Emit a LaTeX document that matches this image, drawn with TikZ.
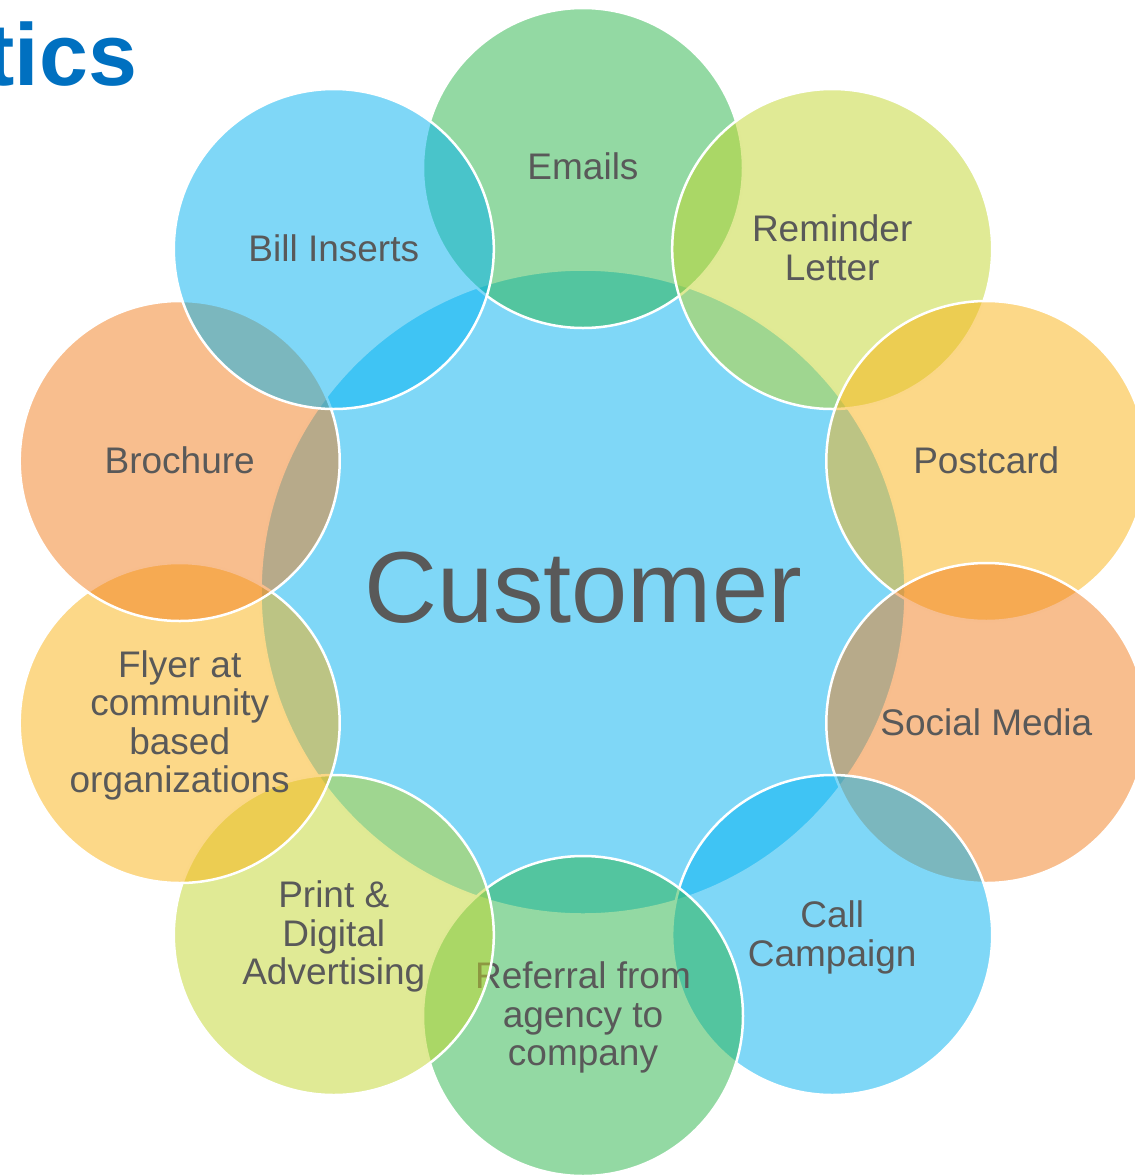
\documentclass[tikz,border=0pt]{standalone}
\usepackage{fontspec}
\setmainfont{Liberation Sans}
\definecolor{cblue}{RGB}{0,176,240}
\definecolor{cgreen}{RGB}{40,180,72}
\definecolor{cyg}{RGB}{193,213,43}
\definecolor{cyel}{RGB}{249,177,17}
\definecolor{csal}{RGB}{241,125,29}
\definecolor{txtgray}{RGB}{89,89,89}
\definecolor{titleblue}{RGB}{0,112,192}
\tikzset{
  bubble/.style={circle, minimum size=320pt, inner sep=0pt, fill=#1, fill opacity=0.5, draw=white, draw opacity=1, line width=2.5pt},
  lbl/.style={anchor=base, inner sep=0pt, text=txtgray, font=\fontsize{37}{38.5}\selectfont},
}
\begin{document}
\begin{tikzpicture}[x=1pt,y=-1pt]
\useasboundingbox (0,0) rectangle (1135,1176);
% title fragment (cut by the left edge, as in the reference)
\node[anchor=base east, inner sep=0pt, text=titleblue, font=\fontsize{88}{90}\selectfont\bfseries] (title) at (137.5,85) {tics};
% centre
\node[bubble=cblue, minimum size=645pt] (cust) at (583,592) {};
\node[anchor=base, inner sep=0pt, text=txtgray, font=\fontsize{101}{104}\selectfont] (custtxt) at (583,622) {Customer};
% outer circles, clockwise from top
\node[bubble=cgreen] (emails) at (583,168) {};
\node[lbl] (emailsA) at (583,179) {Emails};

\node[bubble=cyg] (remind) at (832.2,249) {};
\node[lbl] (remindA) at (832.2,241) {Reminder};
\node[lbl] (remindB) at (832.2,280) {Letter};

\node[bubble=cyel] (post) at (986.3,461) {};
\node[lbl] (postA) at (986.3,473) {Postcard};

\node[bubble=csal] (social) at (986.3,723) {};
\node[lbl] (socialA) at (986.3,735) {Social Media};

\node[bubble=cblue] (call) at (832.2,935) {};
\node[lbl] (callA) at (832.2,927.5) {Call};
\node[lbl] (callB) at (832.2,966) {Campaign};

\node[bubble=cgreen] (refer) at (583,1016) {};
\node[lbl] (referA) at (583,988.5) {Referral from};
\node[lbl] (referB) at (583,1027) {agency to};
\node[lbl] (referC) at (583,1065.5) {company};

\node[bubble=cyg] (print) at (333.8,935) {};
\node[lbl] (printA) at (333.8,907.5) {Print \&};
\node[lbl] (printB) at (333.8,946) {Digital};
\node[lbl] (printC) at (333.8,984.5) {Advertising};

\node[bubble=cyel] (flyer) at (179.7,723) {};
\node[lbl] (flyerA) at (179.7,677) {Flyer at};
\node[lbl] (flyerB) at (179.7,715.5) {community};
\node[lbl] (flyerC) at (179.7,754) {based};
\node[lbl] (flyerD) at (179.7,792.5) {organizations};

\node[bubble=csal] (broch) at (179.7,461) {};
\node[lbl] (brochA) at (179.7,473) {Brochure};

\node[bubble=cblue] (bill) at (333.8,249) {};
\node[lbl] (billA) at (333.8,261) {Bill Inserts};
\end{tikzpicture}
\end{document}
